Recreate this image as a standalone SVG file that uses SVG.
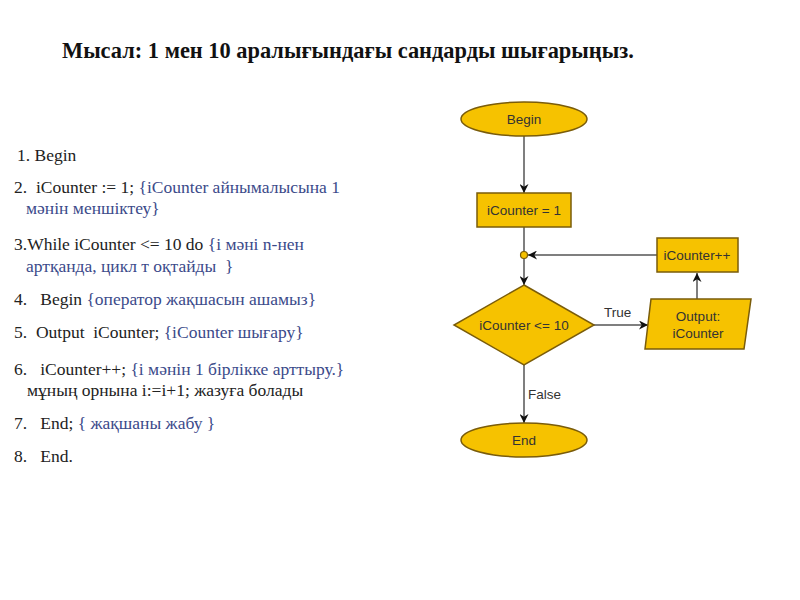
<svg xmlns="http://www.w3.org/2000/svg" width="800" height="600" viewBox="0 0 800 600">
<style>
.title{font-family:"Liberation Serif",serif;font-weight:bold;font-size:22.4px;fill:#111}
.code{font-family:"Liberation Serif",serif;font-size:17.5px;fill:#222}
.cm{fill:#3b4a8a}
.shape{fill:#F6C200;stroke:#7A5C0A;stroke-width:1.5}
.lbl{font-family:"Liberation Sans",Arial,sans-serif;font-size:13.5px;fill:#333;text-anchor:middle}
.el{font-family:"Liberation Sans",Arial,sans-serif;font-size:13.5px;fill:#333}
.conn{stroke:#555;stroke-width:1.5;fill:none}
</style>
<defs>
<marker id="arr" viewBox="0 0 10 10" refX="10" refY="5" markerWidth="9" markerHeight="9" markerUnits="userSpaceOnUse" orient="auto">
<path d="M0,0 L10,5 L0,10 L3,5 z" fill="#111"/>
</marker>
</defs>
<rect width="800" height="600" fill="#fff"/>
<text class="title" x="62" y="58">Мысал: 1 мен 10 аралығындағы сандарды шығарыңыз.</text>
<g id="code">
<text class="code" x="17" y="161">1. Begin</text>
<text class="code" x="14" y="193" xml:space="preserve">2.  iCounter := 1; <tspan class="cm">{iCounter айнымалысына 1</tspan></text>
<text class="code cm" x="26" y="214">мәнін меншіктеу}</text>
<text class="code" x="14" y="250">3.While iCounter &lt;= 10 do <tspan class="cm">{і мәні n-нен</tspan></text>
<text class="code cm" x="26" y="272" xml:space="preserve">артқанда, цикл т оқтайды  }</text>
<text class="code" x="14" y="305" xml:space="preserve">4.   Begin <tspan class="cm">{оператор жақшасын ашамыз}</tspan></text>
<text class="code" x="14" y="338" xml:space="preserve">5.  Output  iCounter; <tspan class="cm">{iCounter шығару}</tspan></text>
<text class="code" x="14" y="375" xml:space="preserve">6.   iCounter++; <tspan class="cm">{і мәнін 1 бірлікке арттыру.}</tspan></text>
<text class="code" x="27" y="396">мұның орнына і:=і+1; жазуға болады</text>
<text class="code" x="14" y="429" xml:space="preserve">7.   End; <tspan class="cm">{ жақшаны жабу }</tspan></text>
<text class="code" x="14" y="462" xml:space="preserve">8.   End.</text>
</g>
<g id="connectors">
<line class="conn" x1="524" y1="136" x2="524" y2="193" marker-end="url(#arr)"/>
<line class="conn" x1="524" y1="227" x2="524" y2="285" marker-end="url(#arr)"/>
<line class="conn" x1="657" y1="255" x2="528" y2="255" marker-end="url(#arr)"/>
<line class="conn" x1="594" y1="325" x2="648" y2="325" marker-end="url(#arr)"/>
<line class="conn" x1="697" y1="299" x2="697" y2="273" marker-end="url(#arr)"/>
<line class="conn" x1="524" y1="365" x2="524" y2="423" marker-end="url(#arr)"/>
<text class="el" x="604" y="317">True</text>
<text class="el" x="528" y="399">False</text>
</g>
<g id="begin">
<ellipse class="shape" cx="524" cy="119" rx="63" ry="17"/>
<text class="lbl" x="524" y="124">Begin</text>
</g>
<g id="init">
<rect class="shape" x="477" y="193" width="94" height="34"/>
<text class="lbl" x="524" y="215">iCounter = 1</text>
</g>
<g id="junction">
<circle cx="524" cy="255" r="3.5" fill="#F6C200" stroke="#7A5C0A" stroke-width="1.2"/>
</g>
<g id="increment">
<rect class="shape" x="657" y="238" width="81" height="34"/>
<text class="lbl" x="697" y="260">iCounter++</text>
</g>
<g id="decision">
<polygon class="shape" points="524,285 594,325 524,365 454,325"/>
<text class="lbl" x="524" y="330">iCounter &lt;= 10</text>
</g>
<g id="output">
<polygon class="shape" points="651,299 751,299 744,349 645,349"/>
<text class="lbl" x="698" y="321">Output:</text>
<text class="lbl" x="698" y="338">iCounter</text>
</g>
<g id="end">
<ellipse class="shape" cx="524" cy="440" rx="63" ry="17"/>
<text class="lbl" x="524" y="445">End</text>
</g>
</svg>
